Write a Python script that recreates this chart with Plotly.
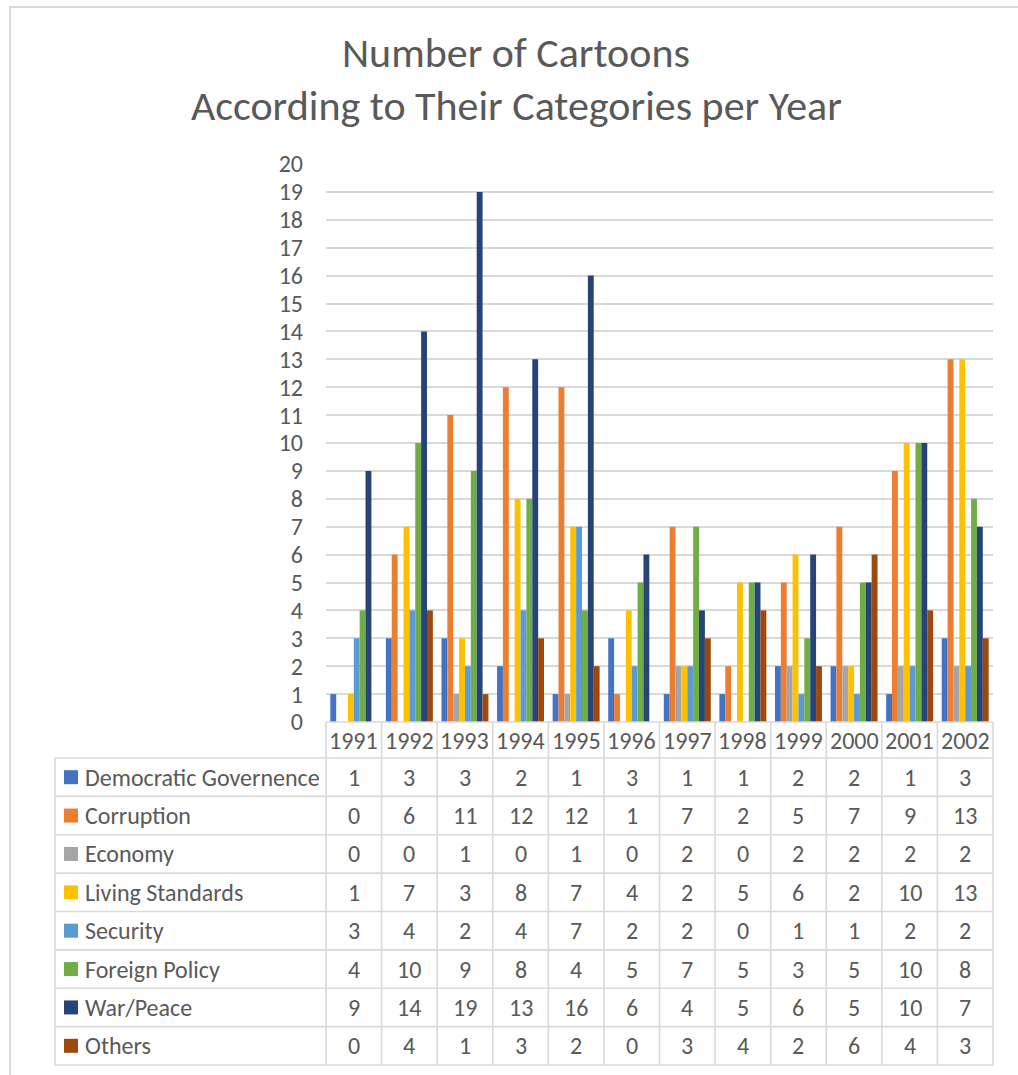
import plotly.graph_objects as go

# Cartoon counts per category and year
years = ["1991", "1992", "1993", "1994", "1995", "1996",
         "1997", "1998", "1999", "2000", "2001", "2002"]

democratic_governence = [1, 3, 3, 2, 1, 3, 1, 1, 2, 2, 1, 3]
corruption = [0, 6, 11, 12, 12, 1, 7, 2, 5, 7, 9, 13]
economy = [0, 0, 1, 0, 1, 0, 2, 0, 2, 2, 2, 2]
living_standards = [1, 7, 3, 8, 7, 4, 2, 5, 6, 2, 10, 13]
security = [3, 4, 2, 4, 7, 2, 2, 0, 1, 1, 2, 2]
foreign_policy = [4, 10, 9, 8, 4, 5, 7, 5, 3, 5, 10, 8]
war_peace = [9, 14, 19, 13, 16, 6, 4, 5, 6, 5, 10, 7]
others = [0, 4, 1, 3, 2, 0, 3, 4, 2, 6, 4, 3]

series_names = ["Democratic Governence", "Corruption", "Economy",
                "Living Standards", "Security", "Foreign Policy",
                "War/Peace", "Others"]
series_values = [democratic_governence, corruption, economy,
                 living_standards, security, foreign_policy,
                 war_peace, others]
series_colors = ["#4472C4", "#ED7D31", "#A5A5A5", "#FFC000",
                 "#5B9BD5", "#70AD47", "#264478", "#9E480E"]

W, H = 1018, 1075
FONT = "Calibri, Carlito, Lato, sans-serif"
TEXT = "#595959"
GRID = "#D9D9D9"

# pixel geometry of plot area and data table
PX_L, PX_R = 326, 993          # plot / table value columns
PX_TOP, PX_ZERO = 164, 722     # y=20 and y=0
TABLE_L = 55
HEADER_BOTTOM = 758
ROW_H = (1065 - HEADER_BOTTOM) / len(series_names)


def px(x):
    return x / W


def py(y):
    return 1 - y / H


fig = go.Figure()
for name, vals, col in zip(series_names, series_values, series_colors):
    fig.add_trace(go.Bar(x=years, y=vals, name=name,
                         marker=dict(color=col, line=dict(width=0)),
                         showlegend=False))

shapes = []
annotations = []

# outer chart border
shapes.append(dict(type="rect", xref="paper", yref="paper",
                   x0=px(10), x1=1.05, y0=py(7), y1=-0.05,
                   line=dict(color=GRID, width=2), fillcolor="rgba(0,0,0,0)",
                   layer="below"))

# data table grid
col_w = (PX_R - PX_L) / len(years)
line_style = dict(color=GRID, width=1.6)
# header top (axis line)
shapes.append(dict(type="line", xref="paper", yref="paper",
                   x0=px(PX_L), x1=px(PX_R), y0=py(PX_ZERO), y1=py(PX_ZERO),
                   line=line_style))
row_edges = [HEADER_BOTTOM + i * ROW_H for i in range(len(series_names) + 1)]
for y in row_edges:
    shapes.append(dict(type="line", xref="paper", yref="paper",
                       x0=px(TABLE_L), x1=px(PX_R), y0=py(y), y1=py(y),
                       line=line_style))
for k in range(len(years) + 1):
    x = PX_L + k * col_w
    shapes.append(dict(type="line", xref="paper", yref="paper",
                       x0=px(x), x1=px(x), y0=py(PX_ZERO), y1=py(row_edges[-1]),
                       line=line_style))
shapes.append(dict(type="line", xref="paper", yref="paper",
                   x0=px(TABLE_L), x1=px(TABLE_L),
                   y0=py(HEADER_BOTTOM), y1=py(row_edges[-1]),
                   line=line_style))

TABLE_FONT = dict(family=FONT, size=24, color=TEXT)

# year header (category positions on the x axis)
for ci, yr in enumerate(years):
    annotations.append(dict(x=ci, xref="x", y=py((PX_ZERO + HEADER_BOTTOM) / 2),
                            yref="paper", text=yr, showarrow=False,
                            xanchor="center", yanchor="middle",
                            font=TABLE_FONT))

# table rows: legend key + values
for i, (name, vals, col) in enumerate(zip(series_names, series_values, series_colors)):
    yc = row_edges[i] + ROW_H / 2
    shapes.append(dict(type="rect", xref="paper", yref="paper",
                       x0=px(64), x1=px(78), y0=py(yc - 7), y1=py(yc + 7),
                       fillcolor=col, line=dict(width=0)))
    annotations.append(dict(x=px(83), xref="paper", y=py(yc), yref="paper",
                            text=name, showarrow=False, xanchor="left",
                            yanchor="middle", font=TABLE_FONT))
    for ci, v in enumerate(vals):
        annotations.append(dict(x=ci, xref="x", y=py(yc), yref="paper",
                                text=str(v), showarrow=False,
                                xanchor="center", yanchor="middle",
                                font=TABLE_FONT))

# two-line title
TITLE_FONT = dict(family=FONT, size=42, color=TEXT)
annotations.append(dict(x=px(516), y=py(52), xref="paper", yref="paper",
                        text="Number of Cartoons", showarrow=False,
                        xanchor="center", yanchor="middle", font=TITLE_FONT))
annotations.append(dict(x=px(516), y=py(105), xref="paper", yref="paper",
                        text="According to Their Categories per Year",
                        showarrow=False, xanchor="center", yanchor="middle",
                        font=TITLE_FONT))

fig.update_layout(
    width=W, height=H,
    margin=dict(l=0, r=0, t=0, b=0, pad=0, autoexpand=False),
    paper_bgcolor="white", plot_bgcolor="white",
    barmode="group", bargap=0.155, bargroupgap=0,
    shapes=shapes, annotations=annotations,
    font=dict(family=FONT, color=TEXT),
    xaxis=dict(type="category", domain=[px(PX_L), px(PX_R)],
               range=[-0.5, len(years) - 0.5], automargin=False,
               showticklabels=False, showgrid=False, showline=False,
               zeroline=False, ticks=""),
    yaxis=dict(range=[0, 20], domain=[py(PX_ZERO), py(PX_TOP)],
               automargin=False,
               dtick=1, tick0=0, showgrid=True, gridcolor=GRID, gridwidth=1.5,
               zeroline=False, showline=False, ticks="",
               ticklabelstandoff=22,
               tickfont=dict(family=FONT, size=24, color=TEXT)),
)

fig.write_html("out.html")
